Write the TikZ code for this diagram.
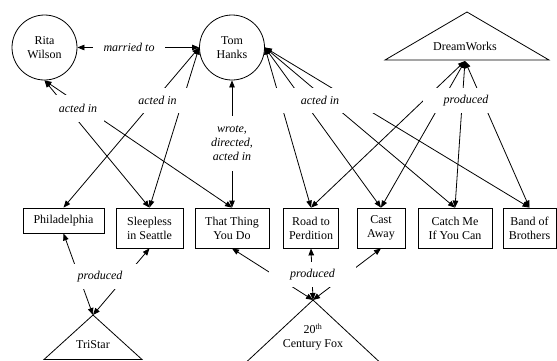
\documentclass[tikz,border=0pt]{standalone}
\usepackage{fontspec}
\setmainfont{Liberation Serif}
\newfontfamily\lserif{Liberation Serif}
\usetikzlibrary{arrows.meta}
\begin{document}
\begin{tikzpicture}[x=1pt,y=-1pt,
  every node/.style={font=\lserif\fontsize{12}{14}\selectfont, align=center, inner sep=0pt},
  person/.style={draw, circle, minimum size=65pt, line width=0.8pt},
  movie/.style={draw, rectangle, line width=0.8pt, minimum height=40pt},
  studio/.style={line width=0.8pt},
  rel/.style={line width=0.8pt, {Triangle[length=7pt,width=5.5pt]}-{Triangle[length=7pt,width=5.5pt]}},
  lbl/.style={fill=white, font=\lserif\fontsize{12}{14}\selectfont\itshape, minimum height=25pt},
]
\useasboundingbox (0,0) rectangle (557,360);
\clip (0,0) rectangle (557,360);

% people
\node[person] (rita) at (44.5,47.5) {Rita\\Wilson};
\node[person] (tom) at (232,47.5) {Tom\\Hanks};

% movies
\node[movie, minimum width=81pt, minimum height=25pt] (phil) at (63.5,220.5) {Philadelphia};
\node[movie, minimum width=67pt] (sleep) at (149.5,228) {Sleepless\\in Seattle};
\node[movie, minimum width=74pt] (thing) at (232,228) {That Thing\\You Do};
\node[movie, minimum width=55pt] (road) at (311,228) {Road to\\Perdition};
\node[movie, minimum width=48pt] (cast) at (381,228) {Cast\\Away};
\node[movie, minimum width=74pt] (catch) at (455,228) {Catch Me\\If You Can};
\node[movie, minimum width=53pt] (band) at (529.5,228) {Band of\\Brothers};

% studios
\draw[studio] (467,12) -- (549,60) -- (385,60) -- cycle;
\node (dw) at (465,46) {DreamWorks};
\coordinate (dwport) at (465,61);

\draw[studio] (93,315) -- (142,359.5) -- (44,359.5) -- cycle;
\node (tristar) at (93,345) {TriStar};
\coordinate (tsapex) at (93,315);

\draw[studio] (313,300) -- (386,368) -- (240,368) -- cycle;
\node (fox) at (313,337) {20\textsuperscript{th}\\Century Fox};
\coordinate (foxapex) at (313,300);

% connectors
\draw[rel] (rita.east) -- (tom.west);
\draw[rel] (rita.south) -- (sleep.north);
\draw[rel] (rita.south) -- (thing.north);
\draw[rel] (tom.west) -- (phil.north);
\draw[rel] (tom.west) -- (sleep.north);
\draw[rel] (tom.south) -- (thing.north);
\draw[rel] (tom.east) -- (road.north);
\draw[rel] (tom.east) -- (cast.north);
\draw[rel] (tom.east) -- (catch.north);
\draw[rel] (tom.east) -- (band.north);
\draw[rel] (dwport) -- (road.north);
\draw[rel] (dwport) -- (cast.north);
\draw[rel] (dwport) -- (catch.north);
\draw[rel] (dwport) -- (band.north);
\draw[rel] (tsapex) -- (phil.south);
\draw[rel] (tsapex) -- (sleep.south);
\draw[rel] (foxapex) -- (thing.south);
\draw[rel] (foxapex) -- (road.south);
\draw[rel] (foxapex) -- (cast.south);

% labels
\node[lbl, minimum width=72pt, minimum height=20pt] (lmarried) at (129,47) {married to};
\node[lbl, minimum width=52pt, minimum height=27pt] (lrita) at (78,108.5) {acted in};
\node[lbl, minimum width=67pt] (ltoml) at (157.5,100.5) {acted in};
\node[lbl, minimum width=60pt, minimum height=55pt] (lwrote) at (232,143.5) {wrote,\\directed,\\acted in};
\node[lbl, minimum width=108pt] (ltomr) at (320,100.5) {acted in};
\node[lbl, minimum width=86pt] (ldw) at (466,100.5) {produced};
\node[lbl, minimum width=88pt] (lts) at (100,276.5) {produced};
\node[lbl, minimum width=87pt] (lfox) at (312.5,274.5) {produced};
\end{tikzpicture}
\end{document}
